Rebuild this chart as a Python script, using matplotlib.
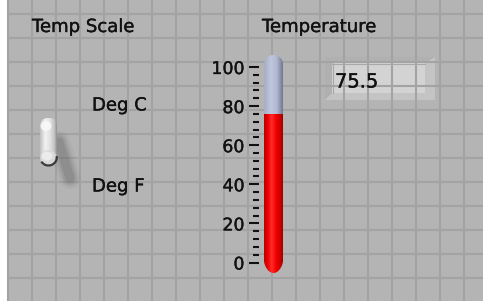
import numpy as np
import matplotlib
matplotlib.use("Agg")
import matplotlib.pyplot as plt
import matplotlib.patheffects as pe
from matplotlib.patches import Rectangle, Polygon, FancyBboxPatch, Ellipse, PathPatch, Arc
from matplotlib.path import Path

# values shown on the panel
temperature = 75.5
scale_min, scale_max = 0, 100
major_ticks = [0, 20, 40, 60, 80, 100]
minor_ticks = [v for v in range(0, 101, 4) if v % 20 != 0]
tick_labels = ["0", "20", "40", "60", "80", "100"]
switch_labels = ["Deg C", "Deg F"]
titles = ["Temp Scale", "Temperature"]
readout = "75.5"

W, H = 483, 304
bg_col = "#b4b4b4"
grid_col = "#a3a3a3"
font = "DejaVu Sans"
ink = "#111111"
thick = [pe.withStroke(linewidth=0.25, foreground=ink)]

fig = plt.figure(figsize=(W / 100, H / 100), dpi=100)
fig.patch.set_facecolor("white")

# background axes in pixel units
bg = fig.add_axes([0, 0, 1, 1])
bg.set_xlim(0, W)
bg.set_ylim(H, 0)
bg.axis("off")

bg.add_patch(Rectangle((7, 0), W - 7, 301, facecolor=bg_col, edgecolor="none"))
for x in [8] + list(range(32, W, 24)):
    bg.plot([x, x], [0, 301], color=grid_col, lw=1.5, solid_capstyle="butt")
for y in np.arange(13.5, 301, 24):
    bg.plot([7, W], [y, y], color=grid_col, lw=1.5, solid_capstyle="butt")


def gradient(stops, n=60):
    pos = [s[0] for s in stops]
    cols = np.array([s[1] for s in stops]) / 255.0
    xs = np.linspace(0, 1, n)
    img = np.stack([np.interp(xs, pos, cols[:, i]) for i in range(3)], axis=-1)
    return img[np.newaxis, :, :]


# labels
for x, y, s in [(32, 32, titles[0]), (262, 32, titles[1]),
                (92, 110.5, switch_labels[0]), (92, 191.5, switch_labels[1])]:
    bg.text(x, y, s, fontsize=13, family=font, color=ink, va="baseline",
            path_effects=thick)

# toggle switch shadow (soft)
for w, a in [(22, 0.07), (17, 0.11), (13, 0.15), (9, 0.2)]:
    bg.plot([59, 70], [142, 178], color="#606060", lw=w * 0.72, alpha=a,
            solid_capstyle="round")

# toggle lever
lever = FancyBboxPatch((40, 118), 17, 48, boxstyle="round,pad=0,rounding_size=8",
                       facecolor="none", edgecolor="none")
bg.add_patch(lever)
img = bg.imshow(gradient([(0, (192, 192, 192)), (0.3, (242, 242, 242)),
                          (0.6, (225, 225, 225)), (0.85, (195, 195, 195)),
                          (1, (145, 145, 145))]),
                extent=[40, 57, 166, 118], aspect="auto", zorder=3)
img.set_clip_path(lever)
bg.add_patch(Ellipse((48.5, 157.5), 16, 15, facecolor="#d8d8d8", edgecolor="none",
                     zorder=4))
bg.add_patch(Ellipse((47, 156), 11, 9, facecolor="#ebebeb", edgecolor="none", zorder=4))
bg.add_patch(Arc((48.5, 157.5), 16.5, 16, theta1=-10, theta2=150, color="#3a3a3a",
                 lw=1.6, zorder=5))
bg.add_patch(Ellipse((46, 126), 11, 10, facecolor="#fafafa", edgecolor="none",
                     alpha=0.85, zorder=4))

# numeric readout box
x0, y0, x1, y1 = 325, 57, 435, 100
ix0, iy0, ix1, iy1 = 332, 63, 425, 93
bg.add_patch(Rectangle((x0, y0), x1 - x0, y1 - y0, facecolor="#c4c4c4", edgecolor="none"))
bg.add_patch(Polygon([(x0, y0), (x1, y0), (ix1, iy0), (ix0, iy0), (ix0, iy1), (x0, y1)],
                     facecolor="#b0b0b0", edgecolor="none"))
bg.add_patch(Rectangle((ix0, iy0), ix1 - ix0, iy1 - iy0, facecolor="#d3d3d3",
                       edgecolor="none"))
bg.plot([ix0, ix1], [iy0 + 0.5, iy0 + 0.5], color="#a8a8a8", lw=0.8)
bg.plot([ix0 + 0.5, ix0 + 0.5], [iy0, iy1], color="#a8a8a8", lw=0.8)
bg.text(335, 87.5, readout, fontsize=14, family=font, color=ink, va="baseline",
        path_effects=thick)

# thermometer axes: 0 -> 262.5 px, 100 -> 67 px
px_per_unit = (262.5 - 67) / (scale_max - scale_min)
top_px, bot_px = 50, 280
ylo = scale_min - (bot_px - 262.5) / px_per_unit
yhi = scale_min + (262.5 - top_px) / px_per_unit
ax_t = fig.add_axes([259 / W, 1 - bot_px / H, 31 / W, (bot_px - top_px) / H])
ax_t.patch.set_alpha(0)
for s in ax_t.spines.values():
    s.set_visible(False)
ax_t.set_xticks([])
ax_t.set_yticks(major_ticks)
ax_t.set_yticklabels(tick_labels, family=font, fontsize=12.5, color=ink)
for lab in ax_t.get_yticklabels():
    lab.set_path_effects(thick)
ax_t.set_yticks(minor_ticks, minor=True)
ax_t.tick_params(axis="y", which="major", length=7.5, width=1.5, pad=3, color=ink)
ax_t.tick_params(axis="y", which="minor", length=4.3, width=1.5, color=ink)

# tube outline
xl, xr = 264, 283
xc, hw = (xl + xr) / 2, (xr - xl) / 2
dome_top = scale_max + (67 - 55) / px_per_unit
dome_start = dome_top - 9 / px_per_unit
bulb_bot = scale_min - (273 - 262.5) / px_per_unit
bulb_start = bulb_bot + 12 / px_per_unit
t = np.linspace(0, np.pi, 30)
top_pts = [(xc + hw * np.cos(a), dome_start + (dome_top - dome_start) * np.sin(a)) for a in t]
bot_pts = [(xc - hw * np.cos(a), bulb_start - (bulb_start - bulb_bot) * np.sin(a) ** 1.3)
           for a in t]
pts = top_pts + bot_pts + [top_pts[0]]
tube = PathPatch(Path(pts), facecolor="none", edgecolor="none")
ax_t.add_patch(tube)

silver = ax_t.imshow(gradient([(0, (165, 174, 198)), (0.35, (192, 200, 222)),
                               (0.65, (175, 183, 206)), (1, (105, 110, 138))]),
                     extent=[xl, xr, temperature, dome_top + 1], aspect="auto",
                     origin="lower", zorder=3)
silver.set_clip_path(tube)
red = ax_t.imshow(gradient([(0, (185, 0, 0)), (0.2, (240, 0, 0)), (0.38, (255, 45, 45)),
                            (0.6, (245, 0, 0)), (0.85, (195, 0, 0)), (1, (140, 0, 0))]),
                  extent=[xl, xr, bulb_bot - 1, temperature], aspect="auto",
                  origin="lower", zorder=3)
red.set_clip_path(tube)
ax_t.set_xlim(259, 290)
ax_t.set_ylim(ylo, yhi)

fig.savefig("out.png", dpi=100)
